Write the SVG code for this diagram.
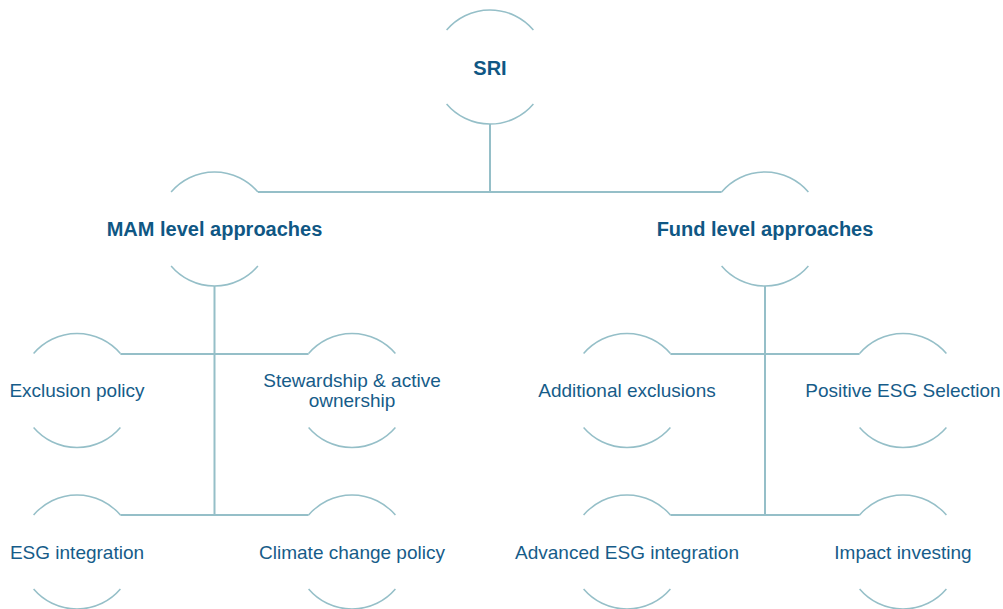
<svg xmlns="http://www.w3.org/2000/svg" xmlns:xlink="http://www.w3.org/1999/xlink" width="1003" height="609" viewBox="0 0 1003 609">
  <style>
    .ring { fill: none; stroke: #95bfc8; stroke-width: 1.5; }
    .link { fill: none; stroke: #95bfc8; stroke-width: 2; }
    .head { font-family: "Liberation Sans", Arial, sans-serif; font-size: 20px; font-weight: bold; fill: #0f5784; text-anchor: middle; }
    .leaf { font-family: "Liberation Sans", Arial, sans-serif; font-size: 19px; fill: #165c89; text-anchor: middle; }
  </style>
  <defs>
    <!-- open circle: only the top and bottom caps of a r=57 ring -->
    <path id="ring" class="ring" d="M -43.4 -37 A 57 57 0 0 1 43.4 -37 M -43.4 37 A 57 57 0 0 0 43.4 37"/>
  </defs>

  <g id="connectors">
    <path class="link" d="M 490 124 V 192 M 258 192 H 721.6"/>
    <path class="link" d="M 214.5 286 V 515 M 120.4 354 H 308.6 M 120.4 515 H 308.6"/>
    <path class="link" d="M 765 286 V 515 M 670.4 354 H 859.6 M 670.4 515 H 859.6"/>
  </g>

  <g id="sri">
    <use xlink:href="#ring" x="490" y="67"/>
    <text class="head" x="490" y="74.5">SRI</text>
  </g>

  <g id="mam">
    <use xlink:href="#ring" x="214.5" y="229"/>
    <text class="head" x="214.5" y="236">MAM level approaches</text>
  </g>

  <g id="fund">
    <use xlink:href="#ring" x="765" y="229"/>
    <text class="head" x="765" y="236">Fund level approaches</text>
  </g>

  <g id="exclusion-policy">
    <use xlink:href="#ring" x="77" y="390.5"/>
    <text class="leaf" x="77" y="397">Exclusion policy</text>
  </g>

  <g id="stewardship">
    <use xlink:href="#ring" x="352" y="390.5"/>
    <text class="leaf" x="352" y="386.5">Stewardship &amp; active</text>
    <text class="leaf" x="352" y="406.5">ownership</text>
  </g>

  <g id="esg-integration">
    <use xlink:href="#ring" x="77" y="552"/>
    <text class="leaf" x="77" y="558.5">ESG integration</text>
  </g>

  <g id="climate-policy">
    <use xlink:href="#ring" x="352" y="552"/>
    <text class="leaf" x="352" y="558.5">Climate change policy</text>
  </g>

  <g id="additional-exclusions">
    <use xlink:href="#ring" x="627" y="390.5"/>
    <text class="leaf" x="627" y="397">Additional exclusions</text>
  </g>

  <g id="positive-selection">
    <use xlink:href="#ring" x="903" y="390.5"/>
    <text class="leaf" x="903" y="397">Positive ESG Selection</text>
  </g>

  <g id="advanced-integration">
    <use xlink:href="#ring" x="627" y="552"/>
    <text class="leaf" x="627" y="558.5">Advanced ESG integration</text>
  </g>

  <g id="impact-investing">
    <use xlink:href="#ring" x="903" y="552"/>
    <text class="leaf" x="903" y="558.5">Impact investing</text>
  </g>
</svg>
